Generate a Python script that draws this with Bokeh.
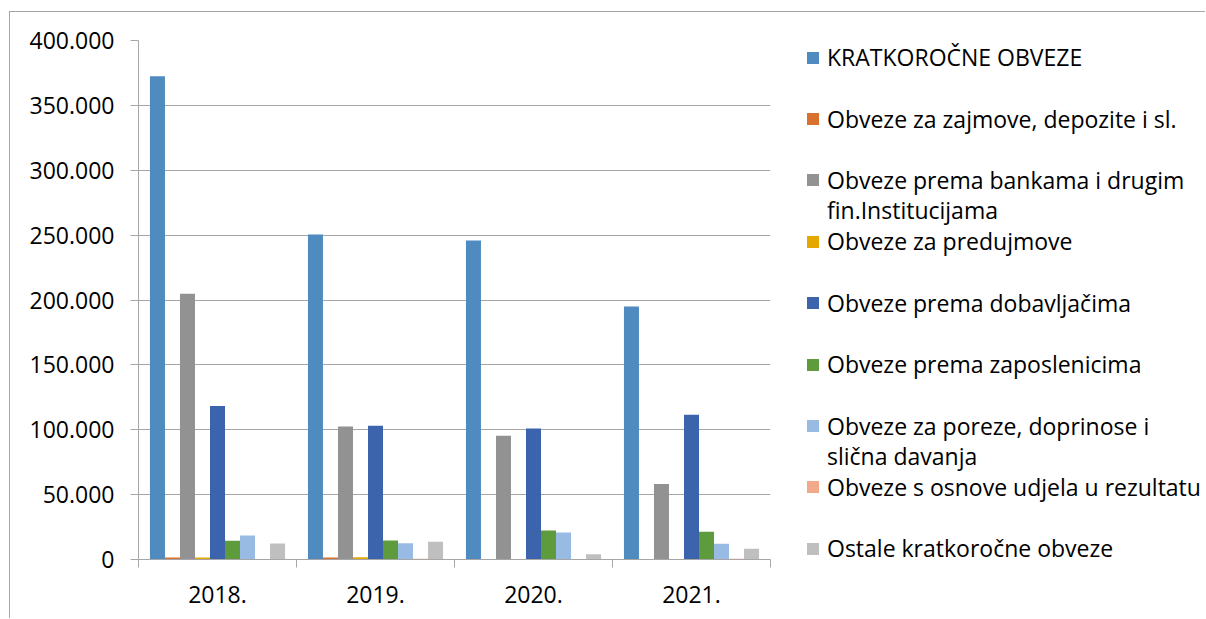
import numpy as np
from bokeh.plotting import figure
from bokeh.layouts import row
from bokeh.models import (Range1d, FixedTicker, Legend, LegendItem)
from bokeh.embed import file_html
from bokeh.resources import INLINE

years = ["2018.", "2019.", "2020.", "2021."]
series_names = [
    "KRATKOROČNE OBVEZE",
    "Obveze za zajmove, depozite i sl.",
    "Obveze prema bankama i drugim\nfin.Institucijama",
    "Obveze za predujmove",
    "Obveze prema dobavljačima",
    "Obveze prema zaposlenicima",
    "Obveze za poreze, doprinose i\nslična davanja",
    "Obveze s osnove udjela u rezultatu",
    "Ostale kratkoročne obveze",
]
kratkorocne = [372400, 250500, 245800, 194900]
zajmovi = [1500, 1500, 0, 0]
banke = [204900, 102500, 95400, 58100]
predujmovi = [1500, 1800, 0, 0]
dobavljaci = [118300, 103100, 101000, 111600]
zaposlenici = [14400, 14700, 22400, 21400]
porezi = [18500, 12600, 20800, 12100]
udjeli = [0, 500, 0, 500]
ostale = [12400, 13700, 4100, 8300]
series_values = [kratkorocne, zajmovi, banke, predujmovi, dobavljaci,
                 zaposlenici, porezi, udjeli, ostale]
colors = ["#4f8bbe", "#d8712d", "#929292", "#e4a800", "#3b64ad",
          "#5e9b3d", "#98bbe3", "#f2a98a", "#bfbfbf"]
y_ticks = [0, 50000, 100000, 150000, 200000, 250000, 300000, 350000, 400000]

FONT = "Open Sans"
GRID = "#a6a6a6"
H = 607
BT, BB = 28, 60

p = figure(width=770, height=H, output_backend="svg", toolbar_location=None,
           x_range=Range1d(0, len(years)), y_range=Range1d(0, 400000),
           min_border_left=128, min_border_right=10, min_border_top=BT,
           min_border_bottom=BB)
p.outline_line_color = None
p.styles = {"border-left": "1px solid #a6a6a6", "border-top": "1px solid #a6a6a6"}

bar_w = 0.095
n = len(series_values)
for j, vals in enumerate(series_values):
    xs = np.arange(len(years)) + 0.5 + (j - (n - 1) / 2) * bar_w
    p.vbar(x=xs, top=vals, width=bar_w, bottom=0, fill_color=colors[j],
           line_color=None)

# y axis
p.yaxis.ticker = FixedTicker(ticks=y_ticks)
p.yaxis.major_label_overrides = {v: (f"{v:,}".replace(",", ".")) for v in y_ticks}
p.yaxis.major_tick_out = 8
p.yaxis.major_tick_in = 0
p.yaxis.minor_tick_out = 0
p.yaxis.minor_tick_in = 0
p.yaxis.axis_line_color = GRID
p.yaxis.major_tick_line_color = GRID
p.yaxis.major_label_standoff = 16
p.yaxis.major_label_text_font = FONT
p.yaxis.major_label_text_font_size = "23px"
p.yaxis.major_label_text_color = "#000000"

# x axis
centers = [i + 0.5 for i in range(len(years))]
p.xaxis.ticker = FixedTicker(ticks=centers, minor_ticks=list(range(len(years) + 1)))
p.xaxis.major_label_overrides = {c: y for c, y in zip(centers, years)}
p.xaxis.major_tick_out = 0
p.xaxis.major_tick_in = 0
p.xaxis.minor_tick_out = 8
p.xaxis.minor_tick_in = 0
p.xaxis.minor_tick_line_color = GRID
p.xaxis.axis_line_color = GRID
p.xaxis.major_label_standoff = 18
p.xaxis.major_label_text_font = FONT
p.xaxis.major_label_text_font_size = "23px"
p.xaxis.major_label_text_color = "#000000"

p.xgrid.grid_line_color = None
p.ygrid.grid_line_color = GRID
p.ygrid.grid_line_width = 1

# legend panel
lp = figure(width=426, height=H, output_backend="svg", toolbar_location=None,
            x_range=Range1d(0, 1), y_range=Range1d(0, 1), min_border=0)
lp.axis.visible = False
lp.grid.visible = False
lp.outline_line_color = None
lp.styles = {"border-top": "1px solid #a6a6a6"}
lp.frame_align = False
frame_bottom_page = 12 + H   # page y of legend-panel frame bottom

pitch = 61.4
first_cy = 57.5
h1 = 1.362 * 23
line_step = 30


def add_item(label, renderer, cy):
    bottom_page = cy + h1 / 2
    lg = Legend(items=[LegendItem(label=label, renderers=[renderer])],
                location=(26, frame_bottom_page - bottom_page),
                padding=0, margin=0, spacing=0,
                glyph_width=15, glyph_height=15, label_standoff=7,
                label_height=15, label_text_font=FONT,
                label_text_font_size="23px", label_text_color="#000000",
                border_line_color=None, background_fill_alpha=0)
    lp.add_layout(lg, "center")


for j, name in enumerate(series_names):
    r = lp.vbar(x=[5], top=[0], width=0.1, fill_color=colors[j], line_color=None)
    cy = first_cy + j * pitch
    lines = name.split("\n")
    add_item(lines[0], r, cy)
    for k, extra in enumerate(lines[1:], start=1):
        blank = lp.vbar(x=[5], top=[0], width=0.1, fill_color=None, line_color=None)
        add_item(extra, blank, cy + k * line_step)

layout = row(p, lp, spacing=0)
layout.styles = {"margin-left": "9px", "margin-top": "11px"}

open("out.html", "w").write(file_html(layout, INLINE))
